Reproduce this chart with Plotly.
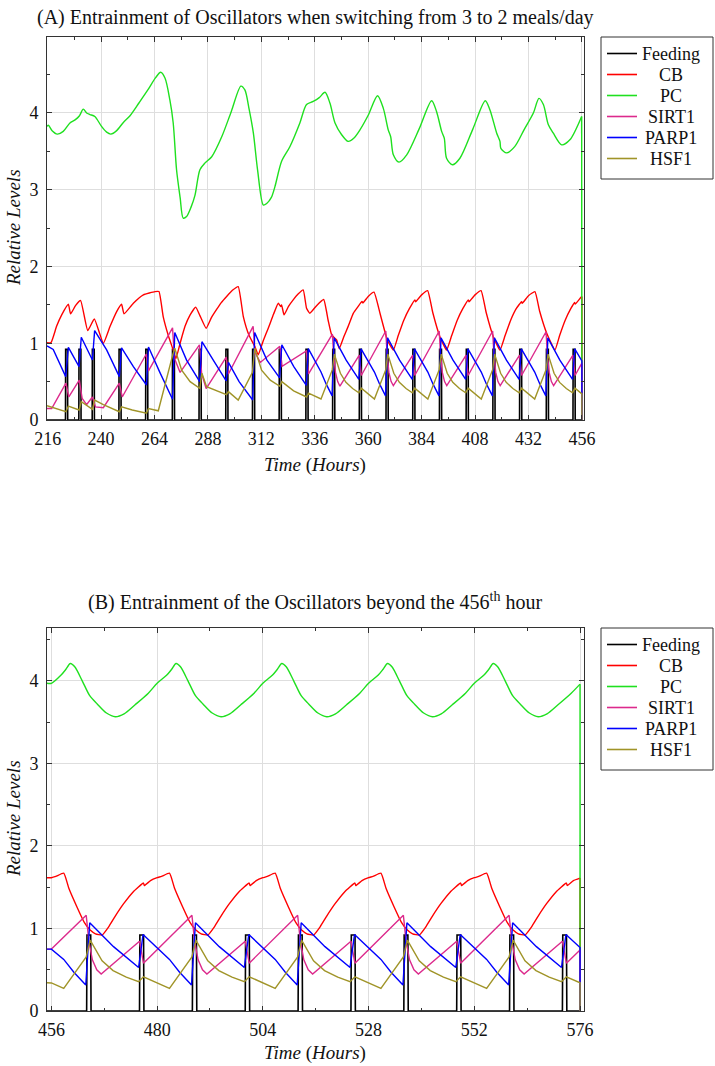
import plotly.graph_objects as go

# ---------------- Panel A data (hours 216-456) ----------------
MEALS_A = [224, 230, 236, 248, 260, 272, 284, 296, 308, 320, 332, 344, 356, 368,
           380, 392, 404, 416, 428, 440, 452]
MEALS_B = [464, 476, 488, 500, 512, 524, 536, 548, 560, 572]
MEAL_LEN = 1.0
MEAL_LEVEL = 0.92

CB_A = [(215.7, 1.008), (217.5, 1.008), (220.0, 1.22), (222.3, 1.37), (225.3, 1.508),
        (226.3, 1.382), (228.5, 1.49), (230.8, 1.556), (234.0, 1.165), (236.95, 1.317),
        (241.0, 1.0), (244.0, 1.217), (247.0, 1.412), (249.2, 1.508), (250.3, 1.382),
        (254.5, 1.521), (259.0, 1.63), (264.2, 1.673), (266.0, 1.673), (267.9, 1.347),
        (270.2, 1.1), (272.4, 0.91), (273.6, 0.80), (275.5, 1.0), (277.7, 1.22),
        (280.0, 1.37), (282.5, 1.47), (284.4, 1.36), (287.2, 1.195), (289.5, 1.33),
        (291.9, 1.44), (294.0, 1.53), (296.4, 1.61), (299.0, 1.69), (301.6, 1.738),
        (303.9, 1.347), (306.5, 1.1), (309.1, 0.956), (310.6, 0.85), (312.8, 1.03),
        (315.1, 1.195), (317.5, 1.38), (319.6, 1.521), (320.7, 1.478), (321.1, 1.5),
        (322.2, 1.369), (324.2, 1.48), (326.3, 1.565), (328.5, 1.64), (330.8, 1.695),
        (332.3, 1.456), (333.8, 1.391), (336.8, 1.49), (340.0, 1.57), (342.0, 1.3),
        (343.6, 1.108), (345.8, 1.043), (347.0, 0.93), (349.0, 1.08), (351.0, 1.22),
        (353.3, 1.39), (355.5, 1.48), (357.2, 1.545), (357.6, 1.525), (360.0, 1.61),
        (362.6, 1.665), (365.3, 1.39), (368.6, 1.043), (371.3, 0.912), (373.5, 1.1),
        (376.0, 1.3), (378.5, 1.45), (381.0, 1.564), (381.3, 1.54), (384.0, 1.63),
        (386.7, 1.686), (389.0, 1.4), (392.2, 1.086), (395.2, 0.912), (397.5, 1.1),
        (400.0, 1.3), (402.5, 1.45), (405.0, 1.564), (405.3, 1.54), (408.0, 1.63),
        (410.7, 1.686), (413.0, 1.4), (416.2, 1.086), (419.2, 0.912), (421.5, 1.1),
        (424.0, 1.3), (426.5, 1.45), (428.9, 1.542), (429.2, 1.52), (432.0, 1.62),
        (434.9, 1.673), (437.0, 1.42), (440.2, 1.13), (443.9, 0.912), (446.0, 1.1),
        (448.5, 1.3), (451.0, 1.45), (452.7, 1.53), (453.0, 1.51), (455.6, 1.6),
        (456.0, 1.61), (456.0, 0.0)]

PC_A = [(215.7, 3.825), (216.3, 3.84), (218.0, 3.77), (220.3, 3.725), (223.0, 3.76),
        (226.0, 3.87), (228.3, 3.91), (230.2, 3.96), (232.0, 4.05), (233.5, 4.0),
        (235.0, 3.98), (237.2, 3.955), (240.2, 3.825), (242.5, 3.75), (244.4, 3.725),
        (247.0, 3.77), (250.0, 3.877), (253.0, 3.964), (257.0, 4.13), (261.0, 4.30),
        (264.5, 4.46), (266.75, 4.53), (268.7, 4.455), (270.9, 4.17), (272.4, 3.87),
        (273.9, 3.26), (275.5, 2.9), (276.9, 2.63), (278.4, 2.65), (280.5, 2.78),
        (282.2, 2.93), (284.4, 3.26), (286.7, 3.35), (289.7, 3.43), (294.2, 3.69),
        (298.5, 4.02), (302.8, 4.35), (304.6, 4.30), (306.5, 4.05), (308.4, 3.74),
        (310.3, 3.26), (312.9, 2.80), (314.4, 2.82), (316.5, 2.9), (318.1, 3.04),
        (321.1, 3.37), (324.8, 3.56), (329.3, 3.87), (332.3, 4.11), (335.3, 4.15),
        (338.0, 4.2), (340.6, 4.27), (342.8, 4.13), (345.1, 3.87), (348.0, 3.72),
        (351.0, 3.63), (353.5, 3.67), (356.3, 3.78), (360.0, 3.97), (364.2, 4.225),
        (366.8, 4.06), (369.0, 3.78), (370.1, 3.69), (371.3, 3.455), (373.8, 3.36),
        (377.3, 3.455), (383.0, 3.8), (388.5, 4.16), (390.7, 4.02), (393.0, 3.76),
        (394.2, 3.67), (395.2, 3.41), (397.8, 3.325), (401.2, 3.41), (407.0, 3.79),
        (412.6, 4.16), (414.7, 4.04), (417.7, 3.74), (419.2, 3.63), (419.6, 3.54),
        (422.2, 3.48), (425.9, 3.565), (430.0, 3.78), (434.2, 4.0), (436.7, 4.19),
        (438.7, 4.11), (440.9, 3.85), (443.1, 3.74), (446.9, 3.585), (450.6, 3.65),
        (455.9, 3.955), (456.0, 0.0)]

SIRT1_A = [(215.7, 0.15), (217.8, 0.15), (224.2, 0.48), (225.5, 0.30), (230.2, 0.52),
           (231.5, 0.28), (233.5, 0.20), (236.1, 0.30), (237.5, 0.17), (241.0, 0.16),
           (248.2, 0.48), (249.5, 0.30), (260.3, 0.86), (261.3, 0.64), (272.1, 1.20),
           (273.0, 0.80), (275.5, 0.62), (284.2, 0.98), (285.2, 0.60), (287.2, 0.41),
           (296.2, 0.82), (297.2, 0.60), (308.3, 1.22), (309.2, 0.88), (311.5, 0.75),
           (320.3, 0.96), (321.3, 0.70), (332.2, 0.90), (333.2, 0.60),
           (343.9, 1.12), (344.5, 0.85), (345.3, 0.62), (346.3, 0.5), (347.3, 0.44),
           (356.0, 0.846), (356.9, 0.58),
           (367.9, 1.16), (368.5, 0.85), (369.3, 0.62), (370.3, 0.5), (371.3, 0.447),
           (380.0, 0.846), (380.9, 0.58),
           (391.9, 1.16), (392.5, 0.85), (393.3, 0.62), (394.3, 0.5), (395.3, 0.447),
           (404.0, 0.846), (404.9, 0.58),
           (415.9, 1.16), (416.5, 0.85), (417.3, 0.62), (418.3, 0.5), (419.3, 0.447),
           (428.0, 0.846), (428.9, 0.58),
           (439.9, 1.15), (440.5, 0.85), (441.3, 0.62), (442.3, 0.5), (443.3, 0.447),
           (452.0, 0.846), (452.9, 0.58), (456.0, 0.74), (456.0, 0.0)]

PARP1_A = [(215.7, 0.965), (218.5, 0.92), (224.1, 0.565), (225.3, 0.947), (230.1, 0.695),
           (231.1, 1.078), (236.1, 0.782), (237.1, 1.165), (242.5, 0.913), (248.2, 0.565),
           (249.2, 0.94), (254.5, 0.695), (260.4, 0.456), (261.3, 0.95), (266.4, 0.62),
           (272.1, 0.27), (273.1, 1.14), (278.4, 0.78), (284.3, 0.50), (285.3, 1.02),
           (290.4, 0.78), (296.2, 0.51), (297.2, 0.75), (302.0, 0.5), (308.1, 0.26),
           (309.0, 1.14), (314.5, 0.78), (320.2, 0.55), (321.2, 0.98), (326.5, 0.70),
           (332.2, 0.45), (333.1, 0.93),
           (338.8, 0.625), (341.1, 0.47), (343.8, 0.314), (344.7, 1.07), (350.1, 0.78),
           (355.8, 0.528), (356.8, 0.927),
           (362.8, 0.625), (365.1, 0.47), (367.8, 0.314), (368.7, 1.07), (374.1, 0.78),
           (379.8, 0.528), (380.8, 0.927),
           (386.8, 0.625), (389.1, 0.47), (391.8, 0.314), (392.7, 1.07), (398.1, 0.78),
           (403.8, 0.528), (404.8, 0.927),
           (410.8, 0.625), (413.1, 0.47), (415.8, 0.314), (416.7, 1.07), (422.1, 0.78),
           (427.8, 0.528), (428.8, 0.927),
           (434.8, 0.625), (437.1, 0.47), (439.8, 0.314), (440.7, 1.07), (446.1, 0.78),
           (451.8, 0.528), (452.8, 0.927), (456.0, 0.77), (456.0, 0.0)]

HSF1_A = [(215.7, 0.187), (217.8, 0.165), (224.2, 0.108), (225.3, 0.18), (230.1, 0.13),
          (231.1, 0.24), (236.1, 0.14), (237.1, 0.26), (241.0, 0.2), (248.2, 0.108),
          (249.2, 0.17), (254.0, 0.13), (260.4, 0.09), (261.3, 0.15), (265.7, 0.12),
          (272.2, 0.85), (273.1, 0.934), (276.2, 0.65), (280.0, 0.5), (284.3, 0.413),
          (285.3, 0.61), (287.4, 0.434), (292.0, 0.38), (296.3, 0.33), (297.2, 0.37),
          (301.6, 0.26), (308.0, 0.62), (309.0, 0.934), (312.1, 0.65), (316.0, 0.52),
          (320.3, 0.44), (321.2, 0.5), (326.5, 0.38), (332.3, 0.30), (333.2, 0.35),
          (338.8, 0.274), (343.9, 0.656), (344.8, 0.858), (347.5, 0.608), (350.0, 0.49),
          (353.0, 0.41), (355.8, 0.354), (356.9, 0.415),
          (362.8, 0.274), (367.9, 0.656), (368.8, 0.858), (371.5, 0.608), (374.0, 0.49),
          (377.0, 0.41), (379.8, 0.354), (380.9, 0.415),
          (386.8, 0.274), (391.9, 0.656), (392.8, 0.858), (395.5, 0.608), (398.0, 0.49),
          (401.0, 0.41), (403.8, 0.354), (404.9, 0.415),
          (410.8, 0.274), (415.9, 0.656), (416.8, 0.858), (419.5, 0.608), (422.0, 0.49),
          (425.0, 0.41), (427.8, 0.354), (428.9, 0.415),
          (434.8, 0.274), (439.9, 0.656), (440.8, 0.858), (443.5, 0.608), (446.0, 0.49),
          (449.0, 0.41), (451.8, 0.354), (452.9, 0.415), (456.0, 0.34), (456.0, 0.0)]

# ---------------- Panel B data (hours 456-576) ----------------
CB_B = [(455.0, 1.615),
        (456.0, 1.615), (457.0, 1.63), (458.8, 1.67), (460.0, 1.48), (461.8, 1.26), (463.5, 1.07),
        (464.8, 0.98), (466.0, 0.935), (467.5, 0.92), (469.0, 1.02), (470.5, 1.15), (472.4, 1.30),
        (474.5, 1.44), (476.9, 1.55), (477.1, 1.52), (478.5, 1.58),
        (480.0, 1.615), (481.0, 1.63), (482.8, 1.67), (484.0, 1.48), (485.8, 1.26), (487.5, 1.07),
        (488.8, 0.98), (490.0, 0.935), (491.5, 0.92), (493.0, 1.02), (494.5, 1.15), (496.4, 1.30),
        (498.5, 1.44), (500.9, 1.55), (501.1, 1.52), (502.5, 1.58),
        (504.0, 1.615), (505.0, 1.63), (506.8, 1.67), (508.0, 1.48), (509.8, 1.26), (511.5, 1.07),
        (512.8, 0.98), (514.0, 0.935), (515.5, 0.92), (517.0, 1.02), (518.5, 1.15), (520.4, 1.30),
        (522.5, 1.44), (524.9, 1.55), (525.1, 1.52), (526.5, 1.58),
        (528.0, 1.615), (529.0, 1.63), (530.8, 1.67), (532.0, 1.48), (533.8, 1.26), (535.5, 1.07),
        (536.8, 0.98), (538.0, 0.935), (539.5, 0.92), (541.0, 1.02), (542.5, 1.15), (544.4, 1.30),
        (546.5, 1.44), (548.9, 1.55), (549.1, 1.52), (550.5, 1.58),
        (552.0, 1.615), (553.0, 1.63), (554.8, 1.67), (556.0, 1.48), (557.8, 1.26), (559.5, 1.07),
        (560.8, 0.98), (562.0, 0.935), (563.5, 0.92), (565.0, 1.02), (566.5, 1.15), (568.4, 1.30),
        (570.5, 1.44), (572.9, 1.55), (573.1, 1.52), (574.5, 1.58),
        (576.0, 1.61), (576.0, 0.0)]

PC_B = [(455.0, 3.97),
        (456.0, 3.97), (458.2, 4.07), (459.3, 4.14), (460.3, 4.21), (461.3, 4.17), (463.0, 4.0),
        (464.7, 3.82), (466.4, 3.72), (468.5, 3.61), (470.5, 3.565), (472.5, 3.6), (475.0, 3.71),
        (478.0, 3.85),
        (480.0, 3.97), (482.2, 4.07), (483.3, 4.14), (484.3, 4.21), (485.3, 4.17), (487.0, 4.0),
        (488.7, 3.82), (490.4, 3.72), (492.5, 3.61), (494.5, 3.565), (496.5, 3.6), (499.0, 3.71),
        (502.0, 3.85),
        (504.0, 3.97), (506.2, 4.07), (507.3, 4.14), (508.3, 4.21), (509.3, 4.17), (511.0, 4.0),
        (512.7, 3.82), (514.4, 3.72), (516.5, 3.61), (518.5, 3.565), (520.5, 3.6), (523.0, 3.71),
        (526.0, 3.85),
        (528.0, 3.97), (530.2, 4.07), (531.3, 4.14), (532.3, 4.21), (533.3, 4.17), (535.0, 4.0),
        (536.7, 3.82), (538.4, 3.72), (540.5, 3.61), (542.5, 3.565), (544.5, 3.6), (547.0, 3.71),
        (550.0, 3.85),
        (552.0, 3.97), (554.2, 4.07), (555.3, 4.14), (556.3, 4.21), (557.3, 4.17), (559.0, 4.0),
        (560.7, 3.82), (562.4, 3.72), (564.5, 3.61), (566.5, 3.565), (568.5, 3.6), (571.0, 3.71),
        (574.0, 3.85), (576.0, 3.96), (576.0, 0.0)]

SIRT1_B = [(455.0, 0.75), (456.0, 0.75),
           (463.9, 1.16), (464.5, 0.85), (465.3, 0.62), (466.3, 0.5), (467.3, 0.447),
           (476.0, 0.846), (476.9, 0.58),
           (487.9, 1.16), (488.5, 0.85), (489.3, 0.62), (490.3, 0.5), (491.3, 0.447),
           (500.0, 0.846), (500.9, 0.58),
           (511.9, 1.16), (512.5, 0.85), (513.3, 0.62), (514.3, 0.5), (515.3, 0.447),
           (524.0, 0.846), (524.9, 0.58),
           (535.9, 1.16), (536.5, 0.85), (537.3, 0.62), (538.3, 0.5), (539.3, 0.447),
           (548.0, 0.846), (548.9, 0.58),
           (559.9, 1.16), (560.5, 0.85), (561.3, 0.62), (562.3, 0.5), (563.3, 0.447),
           (572.0, 0.846), (572.9, 0.58), (576.0, 0.74), (576.0, 0.0)]

PARP1_B = [(455.0, 0.75), (456.0, 0.75),
           (458.8, 0.625), (461.1, 0.47), (463.8, 0.314), (464.7, 1.07), (470.1, 0.78),
           (475.8, 0.528), (476.8, 0.927),
           (482.8, 0.625), (485.1, 0.47), (487.8, 0.314), (488.7, 1.07), (494.1, 0.78),
           (499.8, 0.528), (500.8, 0.927),
           (506.8, 0.625), (509.1, 0.47), (511.8, 0.314), (512.7, 1.07), (518.1, 0.78),
           (523.8, 0.528), (524.8, 0.927),
           (530.8, 0.625), (533.1, 0.47), (535.8, 0.314), (536.7, 1.07), (542.1, 0.78),
           (547.8, 0.528), (548.8, 0.927),
           (554.8, 0.625), (557.1, 0.47), (559.8, 0.314), (560.7, 1.07), (566.1, 0.78),
           (571.8, 0.528), (572.8, 0.927), (576.0, 0.77), (576.0, 0.0)]

HSF1_B = [(455.0, 0.342), (456.0, 0.34),
          (458.8, 0.274), (463.9, 0.656), (464.8, 0.858), (467.5, 0.608), (470.0, 0.49),
          (473.0, 0.41), (475.8, 0.354), (476.9, 0.415),
          (482.8, 0.274), (487.9, 0.656), (488.8, 0.858), (491.5, 0.608), (494.0, 0.49),
          (497.0, 0.41), (499.8, 0.354), (500.9, 0.415),
          (506.8, 0.274), (511.9, 0.656), (512.8, 0.858), (515.5, 0.608), (518.0, 0.49),
          (521.0, 0.41), (523.8, 0.354), (524.9, 0.415),
          (530.8, 0.274), (535.9, 0.656), (536.8, 0.858), (539.5, 0.608), (542.0, 0.49),
          (545.0, 0.41), (547.8, 0.354), (548.9, 0.415),
          (554.8, 0.274), (559.9, 0.656), (560.8, 0.858), (563.5, 0.608), (566.0, 0.49),
          (569.0, 0.41), (571.8, 0.354), (572.9, 0.415), (576.0, 0.342), (576.0, 0.0)]

NAMES = ["Feeding", "CB", "PC", "SIRT1", "PARP1", "HSF1"]
COLORS = ["#000000", "#ff0000", "#1fe01f", "#dc2a8c", "#0000ff", "#a09428"]
SMOOTH = [None, 0.4, 0.8, None, None, None]

XTICKS_A = [216, 240, 264, 288, 312, 336, 360, 384, 408, 432, 456]
XTICKS_B = [456, 480, 504, 528, 552, 576]
YTICKS = [0, 1, 2, 3, 4]

TITLE_A = "(A) Entrainment of Oscillators when switching from 3 to 2 meals/day"
TITLE_B = "(B) Entrainment of the Oscillators beyond the 456<sup>th</sup> hour"
XLABEL = "<i>Time</i> (<i>Hours</i>)"
YLABEL = "<i>Relative Levels</i>"

FONT = "Liberation Serif"
W, H = 715, 1066


def split(pairs):
    return [p[0] for p in pairs], [p[1] for p in pairs]


def feeding(meals, start, end):
    t, v = [start], [0.0]
    for m in meals:
        t += [m, m + 0.08, m + MEAL_LEN - 0.08, m + MEAL_LEN]
        v += [0.0, MEAL_LEVEL, MEAL_LEVEL, 0.0]
    t.append(end)
    v.append(0.0)
    return t, v


def px_x(p):
    return p / W


def px_y(p):
    return 1 - p / H


fig = go.Figure()

panels = [
    ("x", "y", feeding(MEALS_A, 215.7, 456.0), [CB_A, PC_A, SIRT1_A, PARP1_A, HSF1_A]),
    ("x2", "y2", feeding(MEALS_B, 455.0, 576.0), [CB_B, PC_B, SIRT1_B, PARP1_B, HSF1_B]),
]
for xa, ya, feed, series in panels:
    fig.add_trace(go.Scatter(x=feed[0], y=feed[1], mode="lines", name=NAMES[0],
                             line=dict(color=COLORS[0], width=1.6), xaxis=xa, yaxis=ya,
                             showlegend=False))
    for i, s in enumerate(series):
        tx, vy = split(s)
        sm = SMOOTH[i + 1]
        if sm is None:
            fig.add_trace(go.Scatter(x=tx, y=vy, mode="lines", name=NAMES[i + 1],
                                     line=dict(color=COLORS[i + 1], width=1.4),
                                     xaxis=xa, yaxis=ya, showlegend=False))
        else:
            # smooth body, straight final drop
            fig.add_trace(go.Scatter(x=tx[:-1], y=vy[:-1], mode="lines", name=NAMES[i + 1],
                                     line=dict(color=COLORS[i + 1], width=1.4,
                                               shape="spline", smoothing=sm),
                                     xaxis=xa, yaxis=ya, showlegend=False))
            fig.add_trace(go.Scatter(x=tx[-2:], y=vy[-2:], mode="lines", name=NAMES[i + 1],
                                     line=dict(color=COLORS[i + 1], width=1.4),
                                     xaxis=xa, yaxis=ya, showlegend=False))

axis_common = dict(showline=True, linecolor="#333", linewidth=1, mirror="allticks",
                   ticks="inside", ticklen=5, tickcolor="#333", showgrid=True,
                   gridcolor="#dedede", gridwidth=1, zeroline=False, automargin=False,
                   tickfont=dict(family=FONT, size=18, color="#111"))

fig.update_layout(
    width=W, height=H, margin=dict(l=0, r=0, t=0, b=0),
    paper_bgcolor="white", plot_bgcolor="white",
    font=dict(family=FONT, size=18, color="#111"),
    showlegend=False,
    xaxis=dict(domain=[px_x(47), px_x(584)], range=[215.7, 456.95], tickvals=XTICKS_A,
               anchor="y", ticklabelstandoff=2,
               minor=dict(dtick=12, tick0=216, ticks="inside", ticklen=3,
                          tickcolor="#333", showgrid=False), **axis_common),
    yaxis=dict(domain=[px_y(420), px_y(37)], range=[0, 4.99], tickvals=YTICKS,
               anchor="x", ticklabelstandoff=4,
               minor=dict(dtick=0.5, tick0=0, ticks="inside", ticklen=3,
                          tickcolor="#333", showgrid=False), **axis_common),
    xaxis2=dict(domain=[px_x(47), px_x(584)], range=[455.0, 576.9], tickvals=XTICKS_B,
                anchor="y2", ticklabelstandoff=2,
                minor=dict(dtick=12, tick0=456, ticks="inside", ticklen=3,
                           tickcolor="#333", showgrid=False), **axis_common),
    yaxis2=dict(domain=[px_y(1011), px_y(628)], range=[0, 4.64], tickvals=YTICKS,
                anchor="x2", ticklabelstandoff=4,
                minor=dict(dtick=0.5, tick0=0, ticks="inside", ticklen=3,
                           tickcolor="#333", showgrid=False), **axis_common),
)

# titles and axis labels
annots = [
    (315, 17, TITLE_A, 0, 20),
    (315, 601, TITLE_B, 0, 20),
    (315, 465, XLABEL, 0, 19),
    (315, 1053, XLABEL, 0, 19),
    (13, 228, YLABEL, -90, 19),
    (13, 819, YLABEL, -90, 19),
]
for x, y, text, ang, sz in annots:
    fig.add_annotation(x=px_x(x), y=px_y(y), xref="paper", yref="paper", text=text,
                       showarrow=False, textangle=ang, xanchor="center", yanchor="middle",
                       font=dict(family=FONT, size=sz, color="#111"))

# legends (one boxed legend per panel)
LEG_LEFT, LEG_RIGHT = 601, 713
for top in (37, 628):
    fig.add_shape(type="rect", xref="paper", yref="paper",
                  x0=px_x(LEG_LEFT), x1=px_x(LEG_RIGHT), y0=px_y(top), y1=px_y(top + 142),
                  line=dict(color="#333", width=1), fillcolor="white", layer="above")
    for k, (name, col) in enumerate(zip(NAMES, COLORS)):
        yc = top + 16.5 + 21 * k
        fig.add_shape(type="line", xref="paper", yref="paper",
                      x0=px_x(607), x1=px_x(637), y0=px_y(yc), y1=px_y(yc),
                      line=dict(color=col, width=1.6), layer="above")
        fig.add_annotation(x=px_x(671), y=px_y(yc), xref="paper", yref="paper", text=name,
                           showarrow=False, xanchor="center", yanchor="middle",
                           font=dict(family=FONT, size=18, color="#111"))

fig.write_html("out.html", config={"displayModeBar": False, "staticPlot": True},
               post_script="document.body.style.margin='0';document.body.style.overflow='hidden';")
